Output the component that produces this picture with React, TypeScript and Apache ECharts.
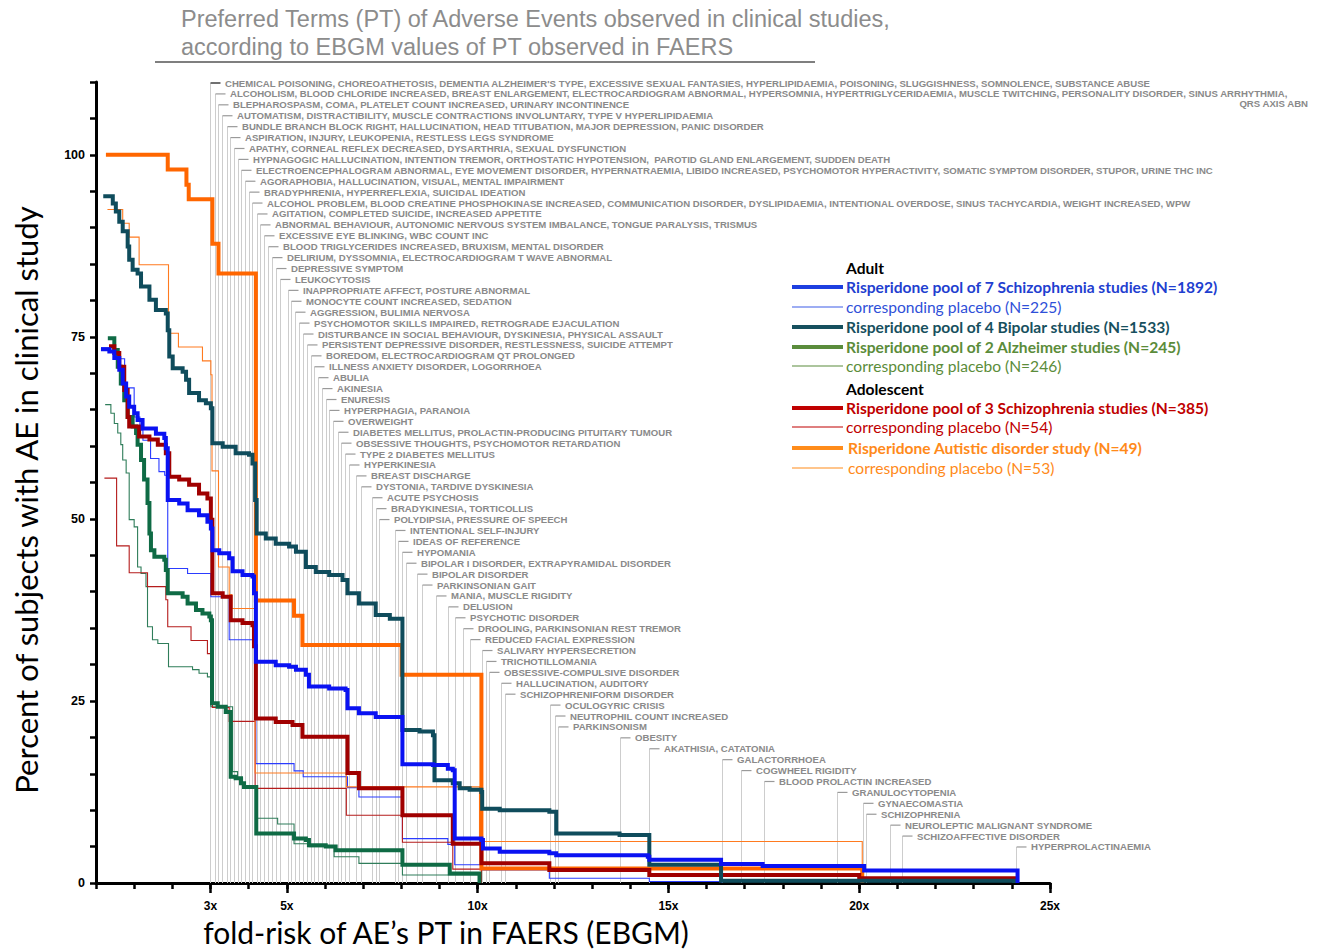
import React, { useEffect, useRef } from 'react';
import * as echarts from 'echarts';

// ---------- data ----------
const X_TICK_LABELS = [3, 5, 10, 15, 20, 25];
const Y_TICK_LABELS = [0, 25, 50, 75, 100];

// Adult – Risperidone pool of 7 Schizophrenia studies (N=1892)
const ADULT_SCZ_RISP = [
  [0.13, 73.3], [0.35, 73.0], [0.48, 72.1], [0.61, 70.5], [0.70, 68.6], [0.79, 66.8], [0.87, 65.4],
  [1.0, 64.5], [1.09, 63.6], [1.22, 62.4], [1.57, 61.7], [1.79, 61.1], [1.83, 59.7], [1.88, 52.6],
  [2.18, 52.1], [2.40, 51.2], [2.70, 50.5], [2.92, 49.6], [3.01, 48.7], [3.05, 45.7], [3.23, 45.3],
  [3.49, 44.6], [3.58, 42.8], [3.84, 42.3], [4.10, 42.1], [4.14, 39.8], [4.19, 30.4], [4.71, 29.9],
  [5.06, 29.7], [5.24, 29.3], [5.50, 28.6], [5.58, 27.0], [6.11, 26.7], [6.54, 26.5], [6.59, 24.0],
  [6.89, 23.3], [7.33, 22.8], [8.03, 16.3], [8.83, 16.2], [9.22, 15.7], [9.35, 15.5], [9.40, 6.1],
  [10.10, 5.9], [10.14, 4.75], [10.58, 4.3], [11.88, 4.1], [12.06, 3.8], [14.46, 3.6], [14.50, 3.2],
  [16.38, 2.6], [17.47, 2.35], [20.13, 1.7], [24.15, 0]
];
// Adult – corresponding placebo (N=225)
const ADULT_SCZ_PBO = [
  [0.13, 73.5], [0.5, 72.0], [0.75, 68.0], [1.0, 64.0], [1.15, 62.2], [1.23, 60.8], [1.43, 58.3],
  [1.65, 56.5], [1.80, 56.0], [1.88, 43.2], [2.40, 42.5], [3.01, 39.3], [3.49, 33.4], [4.19, 16.4],
  [5.19, 15.4], [5.43, 14.6], [6.59, 13.1], [6.89, 11.8], [8.03, 6.1], [9.22, 5.3], [9.40, 2.5],
  [10.10, 1.8], [11.88, 0.65], [14.50, 0.2], [16.4, 0]
];
// Adult – Risperidone pool of 4 Bipolar studies (N=1533)
const ADULT_BIP_RISP = [
  [0.19, 94.3], [0.44, 93.3], [0.52, 92.2], [0.61, 90.8], [0.70, 89.5], [0.83, 87.4], [0.87, 85.6],
  [0.96, 84.2], [1.09, 83.7], [1.18, 81.9], [1.40, 80.1], [1.57, 78.7], [1.83, 78.2], [1.88, 75.9],
  [1.92, 72.3], [2.01, 70.7], [2.27, 70.2], [2.36, 69.1], [2.44, 67.3], [2.70, 66.3], [2.88, 65.9],
  [3.01, 65.2], [3.05, 60.4], [3.32, 59.9], [3.66, 59.0], [4.01, 58.8], [4.10, 57.6], [4.17, 52.6],
  [4.21, 48.0], [4.45, 47.3], [4.71, 46.6], [5.06, 46.2], [5.24, 45.5], [5.50, 43.4], [5.76, 42.7],
  [6.11, 42.3], [6.46, 41.6], [6.59, 39.8], [6.89, 38.4], [7.33, 36.8], [7.70, 36.3], [8.03, 21.0],
  [8.48, 20.8], [8.83, 20.3], [8.87, 14.1], [9.35, 13.7], [9.53, 13.0], [9.79, 12.8], [10.10, 12.5],
  [10.12, 10.2], [10.58, 10.0], [11.88, 9.8], [12.06, 6.8], [13.72, 6.6], [14.50, 2.5], [16.38, 0.3],
  [24.06, 0]
];
// Adult – Risperidone pool of 2 Alzheimer studies (N=245)
const ADULT_ALZ_RISP = [
  [0.31, 74.8], [0.48, 73.2], [0.57, 70.9], [0.65, 68.6], [0.74, 66.3], [0.83, 64.0], [0.96, 62.7],
  [1.05, 61.8], [1.09, 60.2], [1.18, 58.1], [1.26, 55.4], [1.35, 52.2], [1.40, 48.0], [1.44, 45.7],
  [1.53, 44.8], [1.79, 44.4], [1.83, 43.0], [1.88, 39.8], [2.27, 39.3], [2.40, 38.4], [2.62, 37.5],
  [2.79, 37.0], [2.97, 36.6], [3.01, 36.1], [3.04, 24.7], [3.19, 24.2], [3.40, 23.5], [3.53, 14.6],
  [3.66, 14.4], [3.80, 13.7], [3.88, 13.2], [4.20, 6.8], [5.19, 6.1], [5.50, 5.9], [5.58, 5.2],
  [6.02, 5.0], [6.28, 4.5], [8.03, 2.5], [9.27, 1.3], [10.05, 0]
];
// Adult – corresponding placebo (N=246)
const ADULT_ALZ_PBO = [
  [0.24, 65.7], [0.39, 64.5], [0.48, 63.1], [0.57, 61.8], [0.65, 60.2], [0.70, 58.1], [0.79, 56.3],
  [0.87, 49.9], [1.0, 48.9], [1.09, 43.4], [1.18, 42.5], [1.31, 40.7], [1.35, 35.2], [1.48, 33.4],
  [1.62, 32.9], [1.90, 29.7], [2.53, 29.3], [2.70, 28.8], [2.92, 28.3], [3.01, 24.2], [3.58, 15.3],
  [3.71, 14.4], [3.84, 13.0], [4.19, 8.9], [4.76, 8.1], [5.19, 5.4], [5.58, 5.0], [6.24, 3.6],
  [6.89, 2.7], [8.03, 1.1], [10.05, 0]
];
// Adolescent – Risperidone pool of 3 Schizophrenia studies (N=385)
const ADOL_SCZ_RISP = [
  [0.34, 73.7], [0.48, 72.8], [0.61, 70.9], [0.74, 67.7], [0.83, 64.0], [0.87, 62.7], [1.13, 61.3],
  [1.40, 60.9], [1.62, 60.2], [1.83, 59.0], [1.92, 55.8], [2.18, 55.4], [2.44, 54.7], [2.70, 53.5],
  [2.92, 52.8], [3.01, 49.9], [3.05, 39.8], [3.32, 39.3], [3.53, 36.1], [3.84, 35.7], [4.10, 35.4],
  [4.14, 32.5], [4.19, 22.6], [4.71, 22.1], [5.15, 21.7], [5.41, 20.1], [6.59, 15.1], [6.89, 13.0],
  [8.03, 9.3], [9.35, 5.4], [10.10, 2.7], [11.88, 1.8], [14.50, 1.1], [20.0, 0.65], [24.06, 0]
];
// Adolescent – corresponding placebo (N=54)
const ADOL_SCZ_PBO = [
  [0.22, 55.6], [0.54, 46.3], [0.87, 42.6], [1.35, 40.7], [1.83, 38.9], [1.88, 35.2], [2.49, 33.3],
  [2.92, 31.5], [3.01, 27.8], [3.05, 24.1], [3.49, 22.2], [4.17, 13.0], [6.56, 9.3], [8.03, 5.6],
  [9.35, 1.9], [10.10, 0]
];
// Adolescent – Risperidone Autistic disorder study (N=49)
const ADOL_AUT_RISP = [
  [0.26, 100], [1.88, 98.0], [2.37, 95.9], [2.43, 93.9], [3.05, 87.8], [3.21, 83.7], [4.19, 38.8],
  [5.19, 36.7], [5.41, 32.7], [8.01, 28.6], [10.10, 2.0], [20.08, 0]
];
// Adolescent – corresponding placebo (N=53)
const ADOL_AUT_PBO = [
  [0.30, 92.5], [0.70, 90.6], [0.87, 88.7], [1.13, 84.9], [1.90, 75.5], [2.16, 73.6], [2.79, 71.7],
  [3.01, 69.8], [3.04, 56.6], [3.21, 43.4], [3.49, 39.6], [3.56, 37.7], [4.17, 15.1], [6.56, 13.2],
  [10.05, 5.7], [20.08, 0]
];

// EBGM value of each Preferred Term group (annotation)
const PT_EBGM = [
  3.00, 3.12, 3.20, 3.31, 3.42, 3.51, 3.61, 3.71, 3.81, 3.91, 4.01, 4.10, 4.21, 4.30, 4.41, 4.51,
  4.61, 4.71, 4.82, 5.02, 5.12, 5.22, 5.31, 5.42, 5.52, 5.63, 5.71, 5.82, 5.92, 6.02, 6.11, 6.21,
  6.33, 6.43, 6.53, 6.63, 6.82, 6.94, 7.23, 7.33, 7.42, 7.84, 7.92, 8.03, 8.13, 8.41, 8.53, 8.92,
  9.22, 9.42, 9.62, 9.81, 10.11, 10.21, 10.31, 10.62, 10.72, 11.91, 12.02, 12.10, 13.72, 14.50,
  16.40, 16.90, 17.50, 19.41, 20.09, 20.19, 20.81, 21.11, 24.10
];
const PT_LABELS = [
  "CHEMICAL POISONING, CHOREOATHETOSIS, DEMENTIA ALZHEIMER'S TYPE, EXCESSIVE SEXUAL FANTASIES, HYPERLIPIDAEMIA, POISONING, SLUGGISHNESS, SOMNOLENCE, SUBSTANCE ABUSE",
  'ALCOHOLISM, BLOOD CHLORIDE INCREASED, BREAST ENLARGEMENT, ELECTROCARDIOGRAM ABNORMAL, HYPERSOMNIA, HYPERTRIGLYCERIDAEMIA, MUSCLE TWITCHING, PERSONALITY DISORDER, SINUS ARRHYTHMIA,',
  'BLEPHAROSPASM, COMA, PLATELET COUNT INCREASED, URINARY INCONTINENCE',
  'AUTOMATISM, DISTRACTIBILITY, MUSCLE CONTRACTIONS INVOLUNTARY, TYPE V HYPERLIPIDAEMIA',
  'BUNDLE BRANCH BLOCK RIGHT, HALLUCINATION, HEAD TITUBATION, MAJOR DEPRESSION, PANIC DISORDER',
  'ASPIRATION, INJURY, LEUKOPENIA, RESTLESS LEGS SYNDROME',
  'APATHY, CORNEAL REFLEX DECREASED, DYSARTHRIA, SEXUAL DYSFUNCTION',
  'HYPNAGOGIC HALLUCINATION, INTENTION TREMOR, ORTHOSTATIC HYPOTENSION,  PAROTID GLAND ENLARGEMENT, SUDDEN DEATH',
  'ELECTROENCEPHALOGRAM ABNORMAL, EYE MOVEMENT DISORDER, HYPERNATRAEMIA, LIBIDO INCREASED, PSYCHOMOTOR HYPERACTIVITY, SOMATIC SYMPTOM DISORDER, STUPOR, URINE THC INC',
  'AGORAPHOBIA, HALLUCINATION, VISUAL, MENTAL IMPAIRMENT',
  'BRADYPHRENIA, HYPERREFLEXIA, SUICIDAL IDEATION',
  'ALCOHOL PROBLEM, BLOOD CREATINE PHOSPHOKINASE INCREASED, COMMUNICATION DISORDER, DYSLIPIDAEMIA, INTENTIONAL OVERDOSE, SINUS TACHYCARDIA, WEIGHT INCREASED, WPW',
  'AGITATION, COMPLETED SUICIDE, INCREASED APPETITE',
  'ABNORMAL BEHAVIOUR, AUTONOMIC NERVOUS SYSTEM IMBALANCE, TONGUE PARALYSIS, TRISMUS',
  'EXCESSIVE EYE BLINKING, WBC COUNT INC',
  'BLOOD TRIGLYCERIDES INCREASED, BRUXISM, MENTAL DISORDER',
  'DELIRIUM, DYSSOMNIA, ELECTROCARDIOGRAM T WAVE ABNORMAL',
  'DEPRESSIVE SYMPTOM',
  'LEUKOCYTOSIS',
  'INAPPROPRIATE AFFECT, POSTURE ABNORMAL',
  'MONOCYTE COUNT INCREASED, SEDATION',
  'AGGRESSION, BULIMIA NERVOSA',
  'PSYCHOMOTOR SKILLS IMPAIRED, RETROGRADE EJACULATION',
  'DISTURBANCE IN SOCIAL BEHAVIOUR, DYSKINESIA, PHYSICAL ASSAULT',
  'PERSISTENT DEPRESSIVE DISORDER, RESTLESSNESS, SUICIDE ATTEMPT',
  'BOREDOM, ELECTROCARDIOGRAM QT PROLONGED',
  'ILLNESS ANXIETY DISORDER, LOGORRHOEA',
  'ABULIA',
  'AKINESIA',
  'ENURESIS',
  'HYPERPHAGIA, PARANOIA',
  'OVERWEIGHT',
  'DIABETES MELLITUS, PROLACTIN-PRODUCING PITUITARY TUMOUR',
  'OBSESSIVE THOUGHTS, PSYCHOMOTOR RETARDATION',
  'TYPE 2 DIABETES MELLITUS',
  'HYPERKINESIA',
  'BREAST DISCHARGE',
  'DYSTONIA, TARDIVE DYSKINESIA',
  'ACUTE PSYCHOSIS',
  'BRADYKINESIA, TORTICOLLIS',
  'POLYDIPSIA, PRESSURE OF SPEECH',
  'INTENTIONAL SELF-INJURY',
  'IDEAS OF REFERENCE',
  'HYPOMANIA',
  'BIPOLAR I DISORDER, EXTRAPYRAMIDAL DISORDER',
  'BIPOLAR DISORDER',
  'PARKINSONIAN GAIT',
  'MANIA, MUSCLE RIGIDITY',
  'DELUSION',
  'PSYCHOTIC DISORDER',
  'DROOLING, PARKINSONIAN REST TREMOR',
  'REDUCED FACIAL EXPRESSION',
  'SALIVARY HYPERSECRETION',
  'TRICHOTILLOMANIA',
  'OBSESSIVE-COMPULSIVE DISORDER',
  'HALLUCINATION, AUDITORY',
  'SCHIZOPHRENIFORM DISORDER',
  'OCULOGYRIC CRISIS',
  'NEUTROPHIL COUNT INCREASED',
  'PARKINSONISM',
  'OBESITY',
  'AKATHISIA, CATATONIA',
  'GALACTORRHOEA',
  'COGWHEEL RIGIDITY',
  'BLOOD PROLACTIN INCREASED',
  'GRANULOCYTOPENIA',
  'GYNAECOMASTIA',
  'SCHIZOPHRENIA',
  'NEUROLEPTIC MALIGNANT SYNDROME',
  'SCHIZOAFFECTIVE DISORDER',
  'HYPERPROLACTINAEMIA'
];
const PT_LABEL_WRAP = 'QRS AXIS ABN';

const SERIES_NAMES = [
  'Risperidone pool of 7 Schizophrenia studies (N=1892)',
  'corresponding placebo (N=225)',
  'Risperidone pool of 4 Bipolar studies (N=1533)',
  'Risperidone pool of 2 Alzheimer studies (N=245)',
  'corresponding placebo (N=246)',
  'Risperidone pool of 3 Schizophrenia studies (N=385)',
  'corresponding placebo (N=54)',
  'Risperidone Autistic disorder study (N=49)',
  'corresponding placebo (N=53)'
];
const SERIES_DATA = [
  ADULT_SCZ_RISP, ADULT_SCZ_PBO, ADULT_BIP_RISP, ADULT_ALZ_RISP, ADULT_ALZ_PBO,
  ADOL_SCZ_RISP, ADOL_SCZ_PBO, ADOL_AUT_RISP, ADOL_AUT_PBO
];
const GROUP_HEADERS = ['Adult', 'Adolescent'];

const TITLE_LINES = [
  'Preferred Terms (PT) of Adverse Events observed in clinical studies,',
  'according to EBGM values of PT observed in FAERS'
];
const Y_TITLE = 'Percent of subjects with AE in clinical study';
const X_TITLE = 'fold-risk of AE\u2019s PT in FAERS (EBGM)';

// ---------- styles (kept apart from data) ----------
const LINE_COLORS = ['#0a12f2', '#2b3cff', '#0f4c5c', '#0f6b45', '#2f7d5a', '#a00000', '#b51c1c', '#ff6600', '#ff7a1f'];
const LINE_WIDTHS = [4, 1.1, 4, 4, 1.1, 4, 1.1, 4, 1.1];
const LINE_Z = [9, 3, 8, 6, 3, 7, 3, 5, 3];
const LEG_LINE_COLORS = ['#1d3fe0', '#3d5ce8', '#16505e', '#5a8c3c', '#5a8c3c', '#c00000', '#c00000', '#ff8c1a', '#ff8c1a'];
const LEG_TEXT_COLORS = ['#1f3fd0', '#2f50d8', '#17505e', '#5b8c3a', '#5b8c3a', '#c00000', '#c00000', '#ff8a1a', '#ff8a1a'];
const LEG_BOLD = [true, false, true, true, false, true, false, true, false];
const LEG_ITEM_Y = [287, 307, 327, 347, 366, 408, 427, 448, 468];
const LEG_HEADER_Y = [268, 389];
const LEG_TEXT_X = [846, 846, 846, 846, 846, 846, 846, 848, 848];

const ROW_H = 10.914;
const ANNOT_FONT = '"Liberation Sans", Arial, sans-serif';
const LEGEND_FONT = 'Lato, "Open Sans", sans-serif';
const ANNOT_SIZE = 9.6;
const LEGEND_SIZE = 15.6;

export default function App() {
  const ref = useRef<HTMLDivElement>(null);

  useEffect(() => {
    if (!ref.current) return;
    const chart = echarts.init(ref.current, null, { renderer: 'svg' });

    const annotData = PT_EBGM.map((x, i) => [x, i]);

    const annotSeries: any = {
      type: 'custom',
      name: 'PT',
      coordinateSystem: 'cartesian2d',
      clip: false,
      silent: true,
      z: 1,
      data: annotData,
      encode: { x: 0, y: 1 },
      renderItem: (params: any, api: any) => {
        const xv = api.value(0);
        const idx = api.value(1);
        const base = api.coord([xv, 0]);
        const top = params.coordSys.y + 1 + idx * ROW_H;
        const px = Math.round(base[0]) + 0.5;
        const children: any[] = [
          {
            type: 'line',
            shape: { x1: px, y1: top, x2: px, y2: base[1] },
            style: { stroke: '#cdcdcd', lineWidth: 1 }
          },
          {
            type: 'line',
            shape: { x1: px, y1: top, x2: px + 10, y2: top },
            style: { stroke: idx === 0 ? '#707070' : '#9a9a9a', lineWidth: idx === 0 ? 2 : 1.2 }
          },
          {
            type: 'text',
            style: {
              text: PT_LABELS[idx],
              x: px + 14.5,
              y: top,
              verticalAlign: 'middle',
              align: 'left',
              fill: '#8a8a8a',
              fontFamily: ANNOT_FONT,
              fontWeight: 'bold',
              fontSize: ANNOT_SIZE
            }
          }
        ];
        return { type: 'group', children };
      }
    };

    const lineSeries: any[] = SERIES_DATA.map((d, i) => ({
      type: 'line',
      name: SERIES_NAMES[i] + '#' + i,
      data: d,
      step: 'end',
      symbol: 'none',
      z: LINE_Z[i],
      clip: false,
      lineStyle: { color: LINE_COLORS[i], width: LINE_WIDTHS[i], cap: 'butt', join: 'miter' },
      emphasis: { disabled: true }
    }));

    // ---- graphic: title, axis titles, legend ----
    const graphic: any[] = [];
    TITLE_LINES.forEach((t, i) => {
      graphic.push({
        type: 'text', x: 181, y: 19 + i * 28,
        style: {
          text: t, fill: '#8c8c8c', fontFamily: '"Liberation Sans", Arial, sans-serif',
          fontSize: 23.5, verticalAlign: 'middle'
        }
      });
    });
    graphic.push({
      type: 'line', shape: { x1: 155, y1: 62, x2: 815, y2: 62 },
      style: { stroke: '#7f7f7f', lineWidth: 2 }
    });
    graphic.push({
      type: 'text', x: 26, y: 500, rotation: Math.PI / 2,
      style: { text: Y_TITLE, fill: '#000', fontFamily: LEGEND_FONT, fontSize: 31, align: 'center', verticalAlign: 'middle' }
    });
    graphic.push({
      type: 'text', x: 446, y: 932,
      style: { text: X_TITLE, fill: '#000', fontFamily: LEGEND_FONT, fontSize: 30, align: 'center', verticalAlign: 'middle' }
    });
    graphic.push({
      type: 'text', x: 1308, y: 103.5,
      style: { text: PT_LABEL_WRAP, fill: '#8a8a8a', fontFamily: ANNOT_FONT, fontWeight: 'bold', fontSize: ANNOT_SIZE, align: 'right', verticalAlign: 'middle' }
    });
    GROUP_HEADERS.forEach((h, i) => {
      graphic.push({
        type: 'text', x: 846, y: LEG_HEADER_Y[i],
        style: { text: h, fill: '#000', fontFamily: LEGEND_FONT, fontWeight: 'bold', fontSize: LEGEND_SIZE, verticalAlign: 'middle' }
      });
    });
    SERIES_NAMES.forEach((n, i) => {
      const y = LEG_ITEM_Y[i];
      graphic.push({
        type: 'line', shape: { x1: 792, y1: y, x2: 843, y2: y },
        style: { stroke: LEG_LINE_COLORS[i], lineWidth: LEG_BOLD[i] ? 4 : 1.2 }
      });
      graphic.push({
        type: 'text', x: LEG_TEXT_X[i], y,
        style: {
          text: n, fill: LEG_TEXT_COLORS[i], fontFamily: LEGEND_FONT,
          fontWeight: LEG_BOLD[i] ? 'bold' : 'normal', fontSize: LEGEND_SIZE, verticalAlign: 'middle'
        }
      });
    });

    const option: any = {
      animation: false,
      backgroundColor: '#fff',
      grid: { left: 96, top: 82, width: 954, height: 801, containLabel: false, outerBoundsMode: 'none' },
      xAxis: [
        {
          type: 'value', min: 0, max: 25, interval: 1,
          axisLine: { show: true, onZero: false, lineStyle: { color: '#000', width: 3 } },
          axisTick: { show: true, length: 6, lineStyle: { color: '#000', width: 2.5 } },
          splitLine: { show: false },
          axisLabel: {
            margin: 17, color: '#000', fontWeight: 'bold', fontSize: 12, fontFamily: 'Liberation Sans, Arial, sans-serif',
            formatter: (v: number) => (X_TICK_LABELS.indexOf(v) >= 0 ? v + 'x' : '')
          }
        },
        {
          type: 'value', min: 0, max: 25, position: 'bottom',
          axisLine: { show: false },
          axisTick: { show: true, length: 10, customValues: X_TICK_LABELS, lineStyle: { color: '#000', width: 2.5 } },
          axisLabel: { show: false },
          splitLine: { show: false }
        }
      ],
      yAxis: {
        type: 'value', min: 0, max: 110, interval: 5,
        axisLine: { show: true, onZero: false, lineStyle: { color: '#000', width: 3 } },
        axisTick: { show: true, length: 6, lineStyle: { color: '#000', width: 2.5 } },
        splitLine: { show: false },
        axisLabel: {
          margin: 11, color: '#000', fontWeight: 'bold', fontSize: 12.5, fontFamily: 'Liberation Sans, Arial, sans-serif',
          formatter: (v: number) => (Y_TICK_LABELS.indexOf(v) >= 0 ? String(v) : '')
        }
      },
      series: [annotSeries, ...lineSeries],
      graphic
    };

    chart.setOption(option);
    return () => chart.dispose();
  }, []);

  return (
    <div
      ref={ref}
      style={{ position: 'fixed', left: 0, top: 0, width: 1318, height: 952, background: '#fff' }}
    />
  );
}
